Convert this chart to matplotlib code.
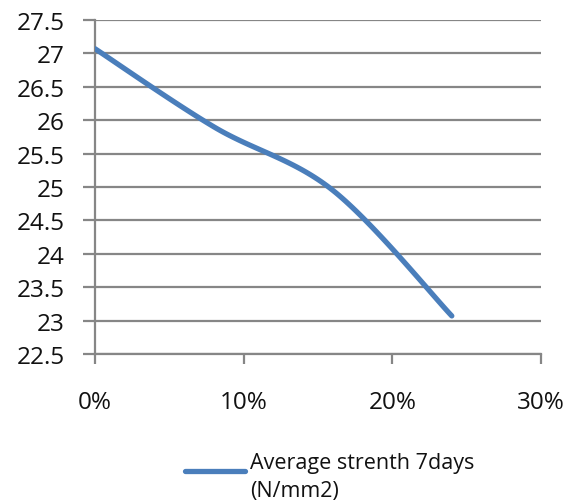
import numpy as np
import matplotlib
matplotlib.use("Agg")
import matplotlib.pyplot as plt
from matplotlib.legend_handler import HandlerLine2D

# Data
x_pct = [0, 8, 16, 24]
strength = [27.07, 25.9, 24.95, 23.07]
series_label = "Average strenth 7days\n(N/mm2)"
y_ticks = [22.5, 23, 23.5, 24, 24.5, 25, 25.5, 26, 26.5, 27, 27.5]
x_ticks = [0, 10, 20, 30]
x_ticklabels = ["0%", "10%", "20%", "30%"]

plt.rcParams['font.family'] = ['Open Sans', 'DejaVu Sans']

fig = plt.figure(figsize=(5.70, 5.02), dpi=100)
W, H = 570, 502
left, right, top, bottom = 95, 541, 21, 355
ax = fig.add_axes([left / W, 1 - bottom / H, (right - left) / W, (bottom - top) / H])


def excel_smooth(xs, ys, n=40):
    pts = np.column_stack([xs, ys]).astype(float)
    out = [pts[0]]
    m = len(pts)
    for i in range(m - 1):
        p0 = pts[i - 1] if i > 0 else pts[i]
        p1 = pts[i]
        p2 = pts[i + 1]
        p3 = pts[i + 2] if i + 2 < m else pts[i + 1]
        c1 = p1 + (p2 - p0) / 6.0
        c2 = p2 - (p3 - p1) / 6.0
        t = np.linspace(0, 1, n)[1:, None]
        seg = ((1 - t) ** 3) * p1 + 3 * ((1 - t) ** 2) * t * c1 + 3 * (1 - t) * t ** 2 * c2 + t ** 3 * p2
        out.extend(seg)
    out = np.array(out)
    return out[:, 0], out[:, 1]


class TopLineHandler(HandlerLine2D):
    def create_artists(self, legend, orig_handle, xdescent, ydescent, width, height, fontsize, trans):
        arts = super().create_artists(legend, orig_handle, xdescent, ydescent, width, height, fontsize, trans)
        for a in arts:
            y = np.asarray(a.get_ydata(), dtype=float)
            a.set_ydata(y + height * 0.36)
        return arts


sx, sy = excel_smooth(x_pct, strength)

grid_color = '#868686'
for yv in y_ticks:
    ax.axhline(yv, color=grid_color, lw=1.6, zorder=1)

line, = ax.plot(sx, sy, color='#4A7EBB', lw=3.8, solid_capstyle='round', zorder=3, label=series_label)

ax.set_xlim(0, 30)
ax.set_ylim(22.5, 27.5)
ax.set_yticks(y_ticks)
ax.set_yticklabels([f"{v:g}" for v in y_ticks])
ax.set_xticks(x_ticks)
ax.set_xticklabels(x_ticklabels)

for s in ['top', 'right']:
    ax.spines[s].set_visible(False)
for s in ['left', 'bottom']:
    ax.spines[s].set_color(grid_color)
    ax.spines[s].set_linewidth(1.6)
    ax.spines[s].set_zorder(2)

ax.tick_params(axis='y', direction='out', length=8.6, width=1.6, color=grid_color,
               labelsize=17.5, pad=13, labelcolor='#111111')
ax.tick_params(axis='x', direction='out', length=7, width=1.6, color=grid_color,
               labelsize=17.5, pad=19, labelcolor='#111111')

leg = fig.legend(handles=[line], loc='upper left', bbox_to_anchor=(176 / W, 1 - 444 / H),
                 frameon=False, fontsize=15.5, handlelength=2.8, handletextpad=0.25,
                 borderaxespad=0, labelcolor='#111111',
                 handler_map={line: TopLineHandler()})
for t in leg.get_texts():
    t.set_linespacing(1.45)

fig.savefig('out.png', dpi=100, facecolor='white')
